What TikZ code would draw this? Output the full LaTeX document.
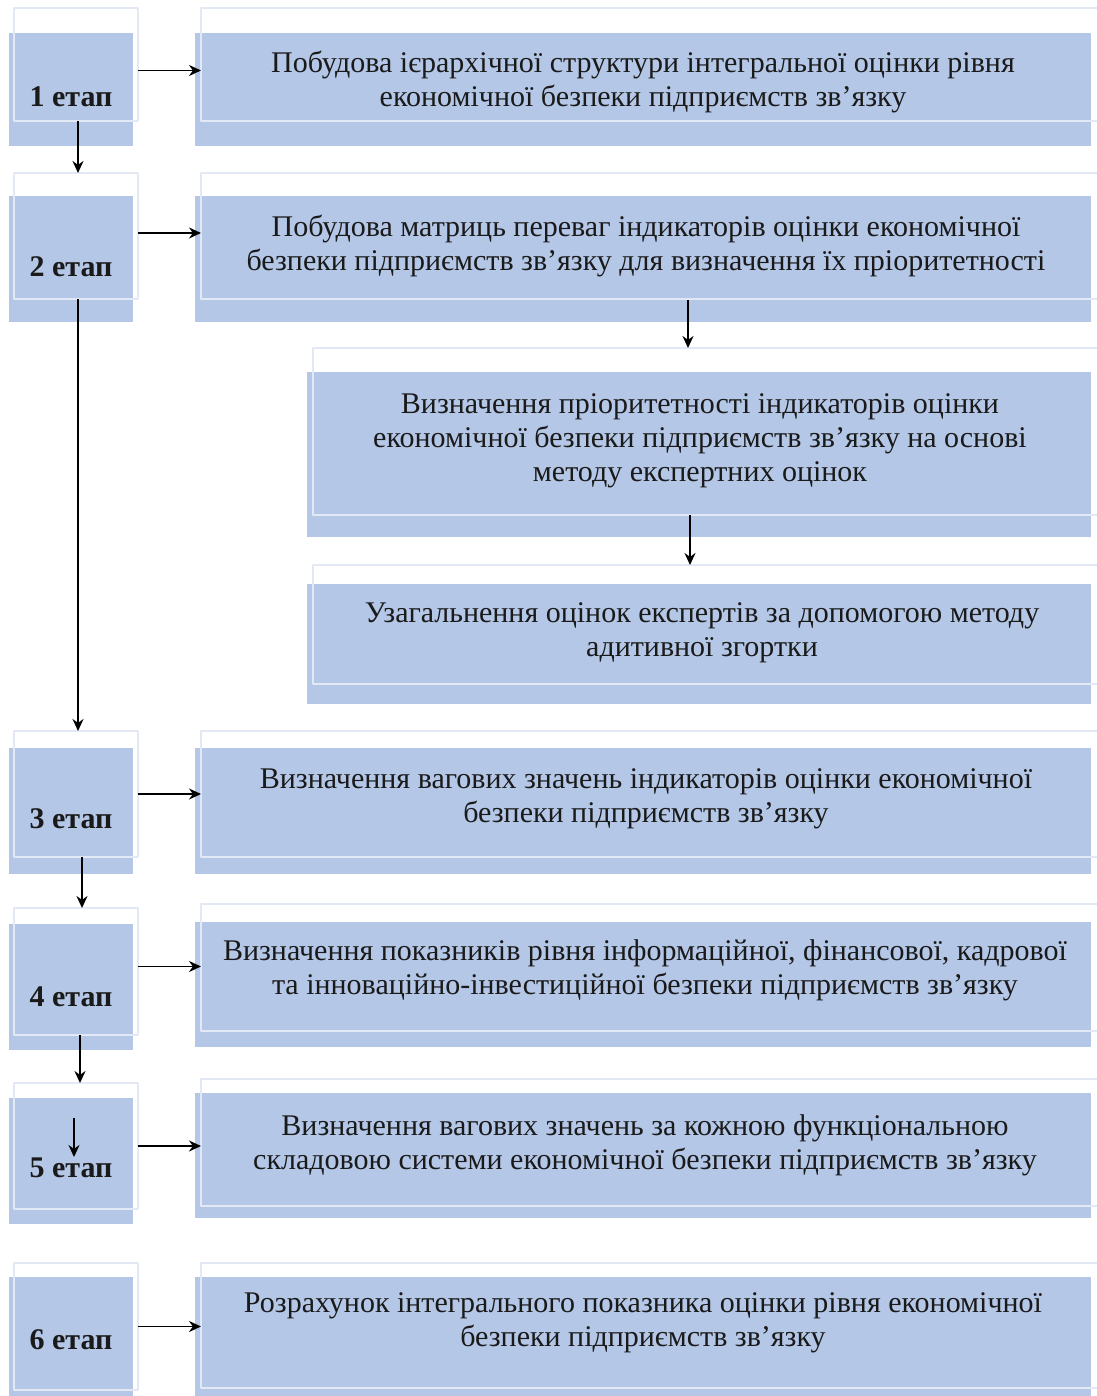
\documentclass[tikz,border=0pt]{standalone}
\usepackage{fontspec}
\setmainfont{Liberation Serif}
\usetikzlibrary{arrows.meta}
\definecolor{boxfill}{HTML}{B4C7E7}
\definecolor{boxline}{HTML}{E2E9F5}
\definecolor{txt}{HTML}{1A1A1A}
\tikzset{
  fillbox/.style={draw=none, fill=boxfill, anchor=north west, inner sep=0pt, outer sep=0pt},
  linebox/.style={draw=boxline, line width=1.5pt, anchor=north west, inner sep=0pt, outer sep=0pt},
  stagetext/.style={font=\fontsize{30}{34}\selectfont\bfseries, text=txt},
  steptext/.style={font=\fontsize{30}{34}\selectfont, text=txt, align=center},
}
\begin{document}
\begin{tikzpicture}[x=1pt, y=-1pt, line join=round, >={Stealth[length=12pt,width=11pt]}]
\useasboundingbox (0,0) rectangle (1096,1396);
% filled boxes
\node[fillbox, minimum width=124pt, minimum height=113pt] (f1) at (9,33) {};
\node[fillbox, minimum width=124pt, minimum height=126pt] (f2) at (9,196) {};
\node[fillbox, minimum width=124pt, minimum height=126pt] (f3) at (9,748) {};
\node[fillbox, minimum width=124pt, minimum height=126pt] (f4) at (9,924) {};
\node[fillbox, minimum width=124pt, minimum height=126pt] (f5) at (9,1098) {};
\node[fillbox, minimum width=124pt, minimum height=127pt] (f6) at (9,1277) {};
\node[fillbox, minimum width=896pt, minimum height=113pt] (g1) at (195,33) {};
\node[fillbox, minimum width=896pt, minimum height=126pt] (g2) at (195,196) {};
\node[fillbox, minimum width=784pt, minimum height=165pt] (g3) at (307,372) {};
\node[fillbox, minimum width=784pt, minimum height=120pt] (g4) at (307,584) {};
\node[fillbox, minimum width=896pt, minimum height=126pt] (g5) at (195,748) {};
\node[fillbox, minimum width=896pt, minimum height=125pt] (g6) at (195,922) {};
\node[fillbox, minimum width=896pt, minimum height=125pt] (g7) at (195,1093) {};
\node[fillbox, minimum width=896pt, minimum height=127pt] (g8) at (195,1277) {};
% outlines
\node[linebox, minimum width=124pt, minimum height=113pt] (e1) at (14,8) {};
\node[linebox, minimum width=124pt, minimum height=126pt] (e2) at (14,173) {};
\node[linebox, minimum width=124pt, minimum height=126pt] (e3) at (14,731) {};
\node[linebox, minimum width=124pt, minimum height=127pt] (e4) at (14,908) {};
\node[linebox, minimum width=124pt, minimum height=126pt] (e5) at (14,1083) {};
\node[linebox, minimum width=124pt, minimum height=127pt] (e6) at (14,1263) {};
\node[linebox, minimum width=901pt, minimum height=113pt] (o1) at (201,8) {};
\node[linebox, minimum width=901pt, minimum height=126pt] (o2) at (201,173) {};
\node[linebox, minimum width=789pt, minimum height=167pt] (o3) at (313,348) {};
\node[linebox, minimum width=789pt, minimum height=119pt] (o4) at (313,565) {};
\node[linebox, minimum width=901pt, minimum height=126pt] (o5) at (201,731) {};
\node[linebox, minimum width=901pt, minimum height=127pt] (o6) at (201,904) {};
\node[linebox, minimum width=901pt, minimum height=127pt] (o7) at (201,1079) {};
\node[linebox, minimum width=901pt, minimum height=125pt] (o8) at (201,1263) {};
% texts
\node[stagetext] (s1) at (71,97) {1 етап};
\node[stagetext] (s2) at (71,267) {2 етап};
\node[stagetext] (s3) at (71,819) {3 етап};
\node[stagetext] (s4) at (71,997) {4 етап};
\node[stagetext] (s5) at (71,1168) {5 етап};
\node[stagetext] (s6) at (71,1340) {6 етап};
\node[steptext] (t1) at (643,82) {Побудова ієрархічної структури інтегральної оцінки рівня\\економічної безпеки підприємств зв’язку};
\node[steptext] (t2) at (646,246) {Побудова матриць переваг індикаторів оцінки економічної\\безпеки підприємств зв’язку для визначення їх пріоритетності};
\node[steptext] (t3) at (700,441) {Визначення пріоритетності індикаторів оцінки\\економічної безпеки підприємств зв’язку на основі\\методу експертних оцінок};
\node[steptext] (t4) at (702,633) {Узагальнення оцінок експертів за допомогою методу\\адитивної згортки};
\node[steptext] (t5) at (646,799) {Визначення вагових значень індикаторів оцінки економічної\\безпеки підприємств зв’язку};
\node[steptext] (t6) at (645,970) {Визначення показників рівня інформаційної, фінансової, кадрової\\та інноваційно-інвестиційної безпеки підприємств зв’язку};
\node[steptext] (t7) at (645,1145) {Визначення вагових значень за кожною функціональною\\складовою системи економічної безпеки підприємств зв’язку};
\node[steptext] (t8) at (643,1323) {Розрахунок інтегрального показника оцінки рівня економічної\\безпеки підприємств зв’язку};
% arrows
\coordinate (d2) at (688,300);
\coordinate (d3) at (690,515);
\coordinate (a5) at (74,1118);
\coordinate (b5) at (74,1157);
\draw[->, line width=1.8pt] ([yshift=-6pt]e1.east) -- ([yshift=-6pt]e1.east -| o1.west);
\draw[->, line width=1.8pt] ([yshift=3pt]e2.east) -- ([yshift=3pt]e2.east -| o2.west);
\draw[->, line width=1.8pt] (e3.east) -- (e3.east -| o5.west);
\draw[->, line width=1.8pt] ([yshift=5pt]e4.east) -- ([yshift=5pt]e4.east -| o6.west);
\draw[->, line width=1.8pt] (e5.east) -- (e5.east -| o7.west);
\draw[->, line width=1.8pt] (e6.east) -- (e6.east -| o8.west);
\draw[->, line width=1.8pt] ([xshift=2pt]e1.south) -- ([xshift=2pt]e2.north);
\draw[->, line width=1.8pt] ([xshift=2pt]e2.south) -- ([xshift=2pt]e3.north);
\draw[->, line width=1.8pt] ([xshift=6pt]e3.south) -- ([xshift=6pt]e4.north);
\draw[->, line width=1.8pt] ([xshift=4pt]e4.south) -- ([xshift=4pt]e5.north);
\draw[->, line width=1.8pt] (a5) -- (b5);
\draw[->, line width=1.8pt] (d2) -- (d2 |- o3.north);
\draw[->, line width=1.8pt] (d3) -- (d3 |- o4.north);
\end{tikzpicture}
\end{document}
